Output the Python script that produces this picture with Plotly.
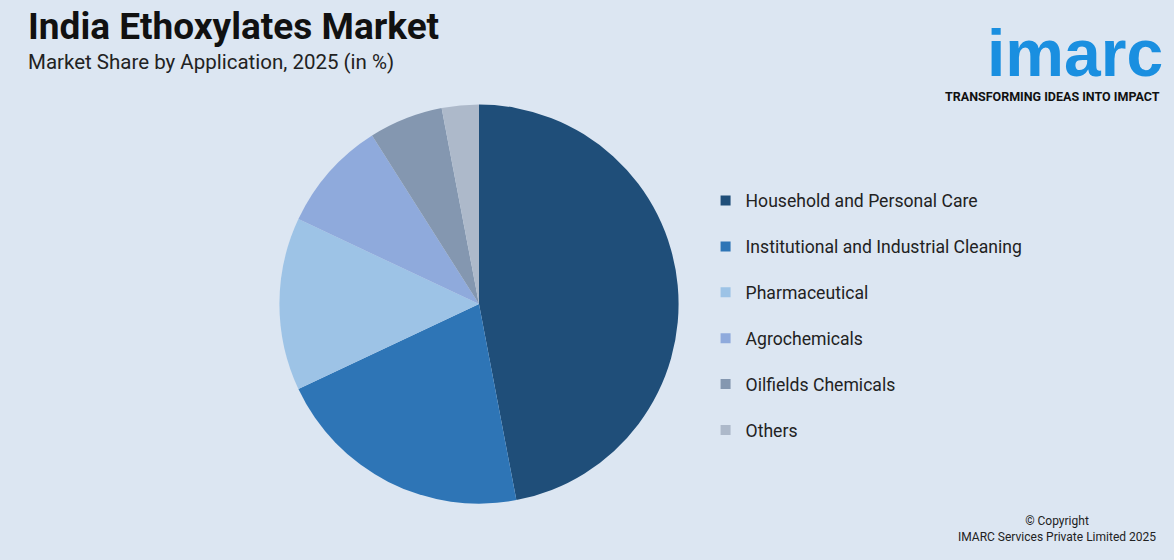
import plotly.graph_objects as go

labels = ["Household and Personal Care", "Institutional and Industrial Cleaning",
          "Pharmaceutical", "Agrochemicals", "Oilfields Chemicals", "Others"]
shares = [47, 21, 14, 9, 6, 3]
colors = ["#1f4e79", "#2e75b6", "#9dc3e6", "#8faadc", "#8497b0", "#adb9ca"]

bg = "#dce6f2"
fig = go.Figure()
fig.add_trace(go.Pie(labels=labels, values=shares, sort=False, direction="clockwise",
                     rotation=0, marker=dict(colors=colors, line=dict(width=0)),
                     textinfo="none", hoverinfo="label+percent", showlegend=False,
                     domain=dict(x=[0.238, 0.578], y=[0.1, 0.814])))

# legend entries as marker-only traces so the spacing can be opened up
for i, (lab, col) in enumerate(zip(labels, colors)):
    fig.add_trace(go.Scatter(x=[None], y=[None], mode="markers", name=lab,
                             legendgroup=str(i),
                             marker=dict(symbol="square", size=10, color=col)))

fig.update_layout(
    width=1174, height=560, paper_bgcolor=bg, plot_bgcolor=bg,
    margin=dict(l=0, r=0, t=0, b=0),
    font=dict(family="Roboto, Arial", color="#222"),
    xaxis=dict(visible=False), yaxis=dict(visible=False),
    legend=dict(x=0.601, y=0.674, xanchor="left", yanchor="top",
                font=dict(size=17.6, color="#222"), tracegroupgap=20,
                itemwidth=30, bgcolor="rgba(0,0,0,0)"),
    annotations=[
        dict(text="<b>India Ethoxylates Market</b>", x=0.022, y=0.995, xref="paper", yref="paper",
             xanchor="left", yanchor="top", showarrow=False, font=dict(size=37, color="#111")),
        dict(text="Market Share by Application, 2025 (in %)", x=0.022, y=0.915, xref="paper",
             yref="paper", xanchor="left", yanchor="top", showarrow=False,
             font=dict(size=20.5, color="#222")),
        dict(text="<b>imarc</b>", x=0.992, y=0.975, xref="paper", yref="paper",
             xanchor="right", yanchor="top", showarrow=False,
             font=dict(size=66, color="#1a8fe0", family="Arial Rounded MT Bold, Arial")),
        dict(text="<b>TRANSFORMING IDEAS INTO IMPACT</b>", x=0.99, y=0.845, xref="paper",
             yref="paper", xanchor="right", yanchor="top", showarrow=False,
             font=dict(size=12.5, color="#111")),
        dict(text="© Copyright<br>IMARC Services Private Limited 2025", x=0.986, y=0.025,
             xref="paper", yref="paper", xanchor="right", yanchor="bottom", showarrow=False,
             align="center", font=dict(size=12, color="#222")),
    ],
)
fig.write_html("out.html", config={"displayModeBar": False})

with open("out.html") as f:
    html = f.read()
html = html.replace("<head>", "<head><style>body{margin:0}</style>", 1)
with open("out.html", "w") as f:
    f.write(html)
